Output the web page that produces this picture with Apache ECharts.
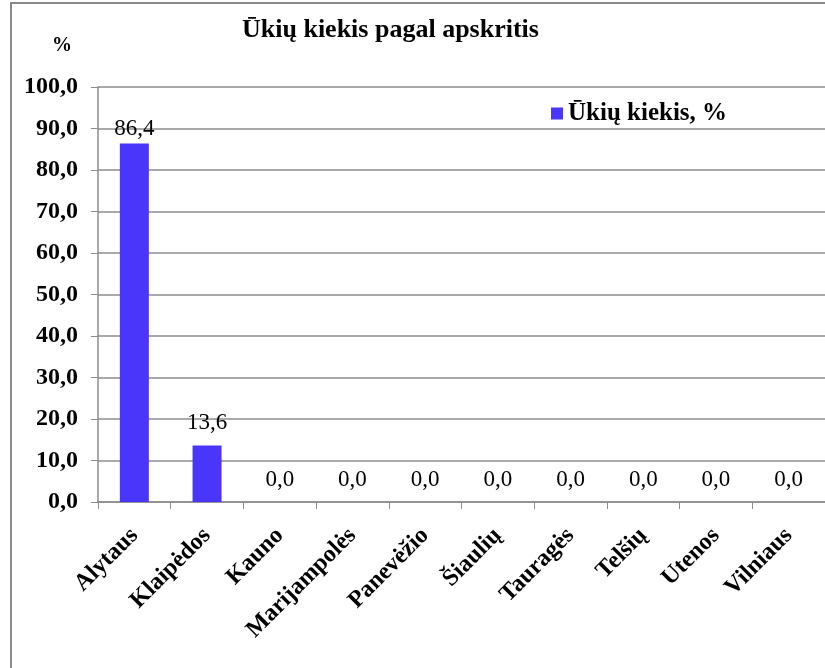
<!DOCTYPE html>
<html>
<head>
<meta charset="utf-8">
<script src="https://cdn.jsdelivr.net/npm/echarts@6/dist/echarts.min.js"></script>
<style>
  html, body { margin: 0; padding: 0; background: #fff; }
  #chart { width: 825px; height: 668px; }
</style>
</head>
<body>
<div id="chart"></div>
<script>
var categories = ['Alytaus', 'Klaipėdos', 'Kauno', 'Marijampolės', 'Panevėžio', 'Šiaulių', 'Tauragės', 'Telšių', 'Utenos', 'Vilniaus'];
var values = [86.4, 13.6, 0, 0, 0, 0, 0, 0, 0, 0];
var seriesName = 'Ūkių kiekis, %';

var font = 'Liberation Serif';
var chart = echarts.init(document.getElementById('chart'));

// the top label sits a little closer to its bar in the original
var barData = values.map(function (v, i) {
  return i === 0 ? { value: v, label: { distance: 3 } } : v;
});

var option = {
  animation: false,
  backgroundColor: '#fff',
  textStyle: { fontFamily: font },
  title: {
    text: 'Ūkių kiekis pagal apskritis',
    left: 242,
    top: 17,
    padding: 0,
    textStyle: { fontFamily: font, fontWeight: 'bold', fontSize: 26, color: '#000' }
  },
  legend: {
    data: [seriesName],
    left: 546,
    top: 96,
    icon: 'rect',
    itemWidth: 12,
    itemHeight: 12,
    itemGap: 6,
    textStyle: { fontFamily: font, fontWeight: 'bold', fontSize: 25, color: '#000' }
  },
  graphic: [
    {
      type: 'rect',
      shape: { x: 11, y: 3, width: 900, height: 800 },
      style: { fill: 'none', stroke: '#8a8a8a', lineWidth: 2 }
    },
    {
      type: 'text',
      left: 52,
      top: 36,
      style: { text: '%', font: 'bold 20px "Liberation Serif"', fill: '#000' }
    }
  ],
  grid: { left: 98, top: 87, right: 0, bottom: 166, containLabel: false },
  xAxis: {
    type: 'category',
    data: categories,
    axisLine: { lineStyle: { color: '#8c8c8c', width: 1.5 } },
    axisTick: { show: true, length: 7, lineStyle: { color: '#8c8c8c' } },
    axisLabel: {
      rotate: 45,
      margin: 30,
      interval: 0,
      fontFamily: font,
      fontWeight: 'bold',
      fontSize: 24,
      color: '#000'
    }
  },
  yAxis: {
    type: 'value',
    min: 0,
    max: 100,
    interval: 10,
    axisLine: { show: true, lineStyle: { color: '#8c8c8c', width: 1.5 } },
    axisTick: { show: true, length: 7, lineStyle: { color: '#8c8c8c' } },
    splitLine: { lineStyle: { color: '#8c8c8c', width: 1.5 } },
    axisLabel: {
      margin: 20,
      fontFamily: font,
      fontWeight: 'bold',
      fontSize: 24,
      color: '#000',
      formatter: function (v) { return v.toFixed(1).replace('.', ','); }
    }
  },
  series: [{
    name: seriesName,
    type: 'bar',
    data: barData,
    barWidth: 29,
    itemStyle: { color: '#4a35fb' },
    label: {
      show: true,
      position: 'top',
      distance: 11,
      fontFamily: font,
      fontSize: 23,
      color: '#000',
      formatter: function (p) { return p.value.toFixed(1).replace('.', ','); }
    }
  }]
};
chart.setOption(option);
</script>
</body>
</html>
